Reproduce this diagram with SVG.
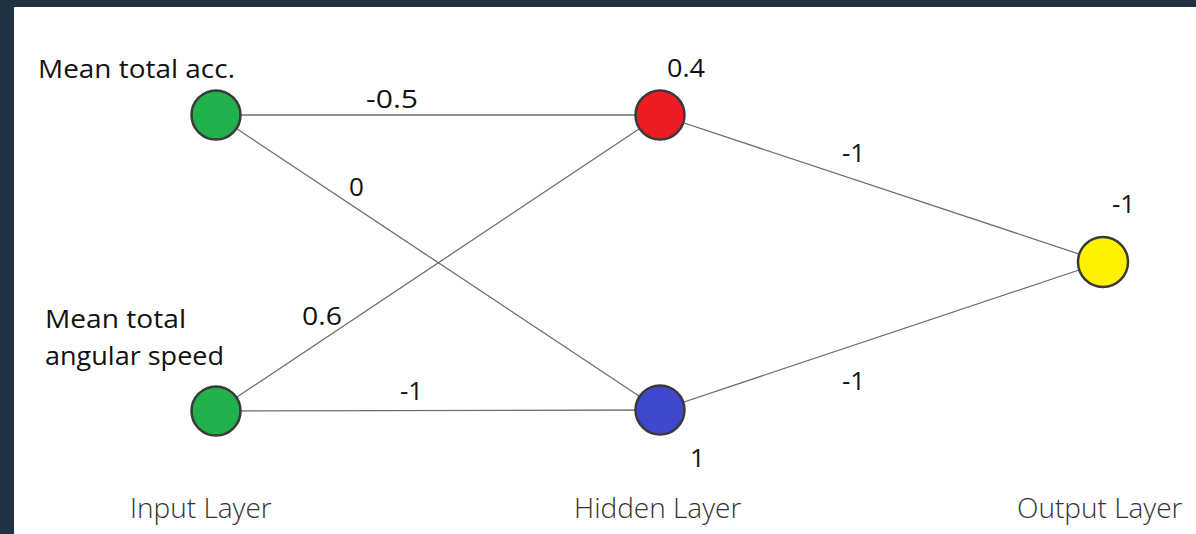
<svg xmlns="http://www.w3.org/2000/svg" width="1196" height="534" viewBox="0 0 1196 534">
<style>
.edge{stroke:#6e6e6e;stroke-width:1.3;fill:none}
.node{stroke:#3a3a3a;stroke-width:2.5}
.lbl{font-family:"Open Sans","Noto Sans",sans-serif;font-size:26px;fill:#111}
.num{font-family:"Open Sans","Noto Sans",sans-serif;font-size:26px;fill:#111}
.layer{font-family:"Open Sans","Noto Sans",sans-serif;font-size:28px;font-weight:300;fill:#333}
</style>
<rect x="0" y="0" width="1196" height="534" fill="#1f3142"/>
<rect x="14" y="7" width="1182" height="527" fill="#ffffff"/>
<g id="connectors">
<line class="edge" x1="216" y1="115" x2="660" y2="115"/>
<line class="edge" x1="216" y1="115" x2="660" y2="410"/>
<line class="edge" x1="216" y1="411" x2="660" y2="115"/>
<line class="edge" x1="216" y1="411" x2="660" y2="410"/>
<line class="edge" x1="660" y1="115" x2="1103" y2="262"/>
<line class="edge" x1="660" y1="410" x2="1103" y2="262"/>
<text class="num" x="366" y="108" textLength="52" lengthAdjust="spacingAndGlyphs">-0.5</text>
<text class="num" x="349" y="196">0</text>
<text class="num" x="302" y="325" textLength="40" lengthAdjust="spacingAndGlyphs">0.6</text>
<text class="num" x="400" y="400">-1</text>
<text class="num" x="842" y="162">-1</text>
<text class="num" x="842" y="390">-1</text>
</g>
<g id="in1"><circle class="node" cx="216" cy="115" r="24.5" fill="#22b14c"/><text class="lbl" x="38" y="78" textLength="197" lengthAdjust="spacingAndGlyphs">Mean total acc.</text></g>
<g id="in2"><circle class="node" cx="216" cy="411" r="24.5" fill="#22b14c"/><text class="lbl" x="45" y="328" textLength="141" lengthAdjust="spacingAndGlyphs">Mean total</text><text class="lbl" x="45" y="365" textLength="179" lengthAdjust="spacingAndGlyphs">angular speed</text></g>
<g id="h1"><circle class="node" cx="660" cy="115" r="24.5" fill="#ed1c24"/><text class="num" x="667" y="77" textLength="38" lengthAdjust="spacingAndGlyphs">0.4</text></g>
<g id="h2"><circle class="node" cx="660" cy="410" r="24.5" fill="#3f48cc"/><text class="num" x="690" y="467">1</text></g>
<g id="out"><circle class="node" cx="1103" cy="262" r="25" fill="#fff200"/><text class="num" x="1112" y="213">-1</text></g>
<g id="layers">
<text class="layer" x="130" y="518">Input Layer</text>
<text class="layer" x="574" y="518">Hidden Layer</text>
<text class="layer" x="1017" y="518">Output Layer</text>
</g>
</svg>
